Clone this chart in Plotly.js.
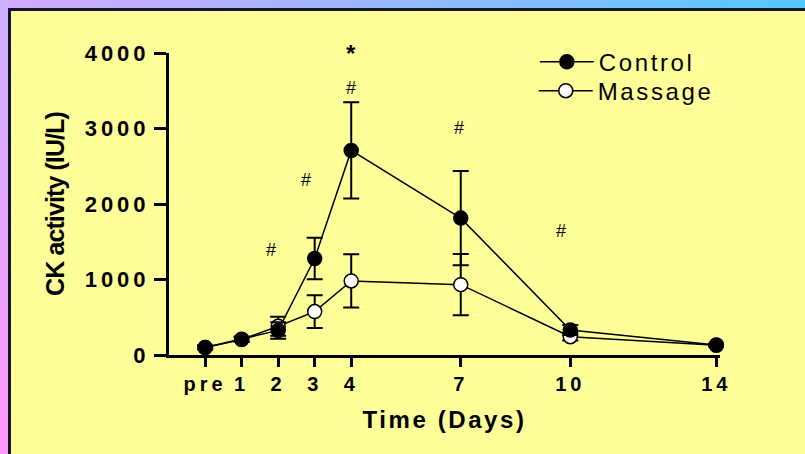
<!DOCTYPE html>
<html><head><meta charset="utf-8">
<script src="https://cdn.plot.ly/plotly-3.0.1.min.js"></script>
<style>
html,body{margin:0;padding:0;width:805px;height:454px;overflow:hidden;background:#ffff99}
#gt{position:absolute;left:0;top:0;width:805px;height:8px;background:linear-gradient(to right,#d4a9ff,#56c8ff)}
#gl{position:absolute;left:0;top:0;width:8px;height:454px;background:linear-gradient(to bottom,#cdb0ff,#ff98ff)}
#panel{position:absolute;left:8px;top:8px;width:797px;height:446px;box-sizing:border-box;background:#ffff99;border-left:3px solid #15152a;border-top:3px solid #15152a}
#chart{position:absolute;left:0;top:0;width:805px;height:454px}
#chart .xtick text, #chart .ytick text{letter-spacing:4px}
#chart .infolayer g[class^="legend"] text{letter-spacing:2.6px}
#chart .scrollbox{clip-path:none !important}
#chart .xtitle{letter-spacing:2.6px}
#chart .ytitle{letter-spacing:-0.9px}
</style></head>
<body>
<div id="gt"></div><div id="gl"></div><div id="panel"></div>
<div id="chart"></div>
<script>
const days = [0, 1, 2, 3, 4, 7, 10, 14];
const tickLabels = ['pre', '1', '2', '3', '4', '7', '10', '14'];
const controlMean = [100, 210, 325, 1278, 2710, 1813, 331, 133];
const controlSEM  = [25, 35, 110, 276, 638, 625, 67, 20];
const massageMean = [100, 205, 380, 575, 981, 932, 243, 128];
const massageSEM  = [25, 30, 125, 216, 353, 406, 50, 20];
const sigX = [4, 4, 2.76, 1.79, 6.95, 9.74];
const sigY = [4000, 3539, 2320, 1392, 3013, 1648];
const sigText = ['*', '#', '#', '#', '#', '#'];

const FONT = 'Liberation Sans, Arial, Helvetica, sans-serif';

const massage = {
  x: days, y: massageMean, name: 'Massage', type: 'scatter', mode: 'lines+markers',
  legend: 'legend2', cliponaxis: false,
  line: {color: '#000', width: 1.5},
  marker: {symbol: 'circle', size: 14, color: '#fff', line: {color: '#000', width: 1.5}},
  error_y: {type: 'data', array: massageSEM, visible: true, color: '#000', thickness: 2, width: 8}
};
const control = {
  x: days, y: controlMean, name: 'Control', type: 'scatter', mode: 'lines+markers',
  legend: 'legend', cliponaxis: false,
  line: {color: '#000', width: 1.5},
  marker: {symbol: 'circle', size: 14, color: '#000', line: {color: '#000', width: 1.5}},
  error_y: {type: 'data', array: controlSEM, visible: true, color: '#000', thickness: 2, width: 8}
};

const annotations = sigX.map((x, i) => ({
  x: x, y: sigY[i], xref: 'x', yref: 'y', text: sigText[i], showarrow: false,
  xanchor: 'center', yanchor: 'middle',
  yshift: 0,
  font: {family: FONT, size: sigText[i] === '*' ? 24 : 18, color: '#000', weight: sigText[i] === '*' ? 'bold' : 'normal'}
}));

const legendBase = {
  xref: 'paper', yref: 'paper', xanchor: 'left', yanchor: 'middle',
  bgcolor: 'rgba(0,0,0,0)', borderwidth: 0, itemwidth: 54,
  font: {family: FONT, size: 24, color: '#000'}
};

const layout = {
  width: 805, height: 454,
  margin: {l: 169, r: 85, t: 53, b: 99, pad: 0},
  paper_bgcolor: 'rgba(0,0,0,0)', plot_bgcolor: 'rgba(0,0,0,0)',
  showlegend: true,
  legend: Object.assign({}, legendBase, {x: 0.664, y: 0.9700}),
  legend2: Object.assign({}, legendBase, {x: 0.662, y: 0.874}),
  xaxis: {
    range: [-0.99, 14.1], tickmode: 'array', tickvals: days, ticktext: tickLabels,
    showgrid: false, zeroline: false, showline: true, linecolor: '#000', linewidth: 3,
    ticks: 'outside', ticklen: 9, tickwidth: 3, tickcolor: '#000',
    tickfont: {family: FONT, size: 20, color: '#000', weight: 'bold'},
    title: {text: 'Time (Days)', font: {family: FONT, size: 24, color: '#000', weight: 'bold'}, standoff: 18}
  },
  yaxis: {
    range: [0, 4000], tickvals: [0, 1000, 2000, 3000, 4000],
    showgrid: false, zeroline: false, showline: true, linecolor: '#000', linewidth: 3,
    ticks: 'outside', ticklen: 12, tickwidth: 3, tickcolor: '#000',
    tickfont: {family: FONT, size: 22, color: '#000', weight: 'bold'},
    title: {text: 'CK activity (IU/L)', font: {family: FONT, size: 25, color: '#000', weight: 'bold'}, standoff: 29}
  },
  annotations: annotations
};

Plotly.newPlot('chart', [massage, control], layout, {displayModeBar: false, staticPlot: true});
</script>
</body></html>
